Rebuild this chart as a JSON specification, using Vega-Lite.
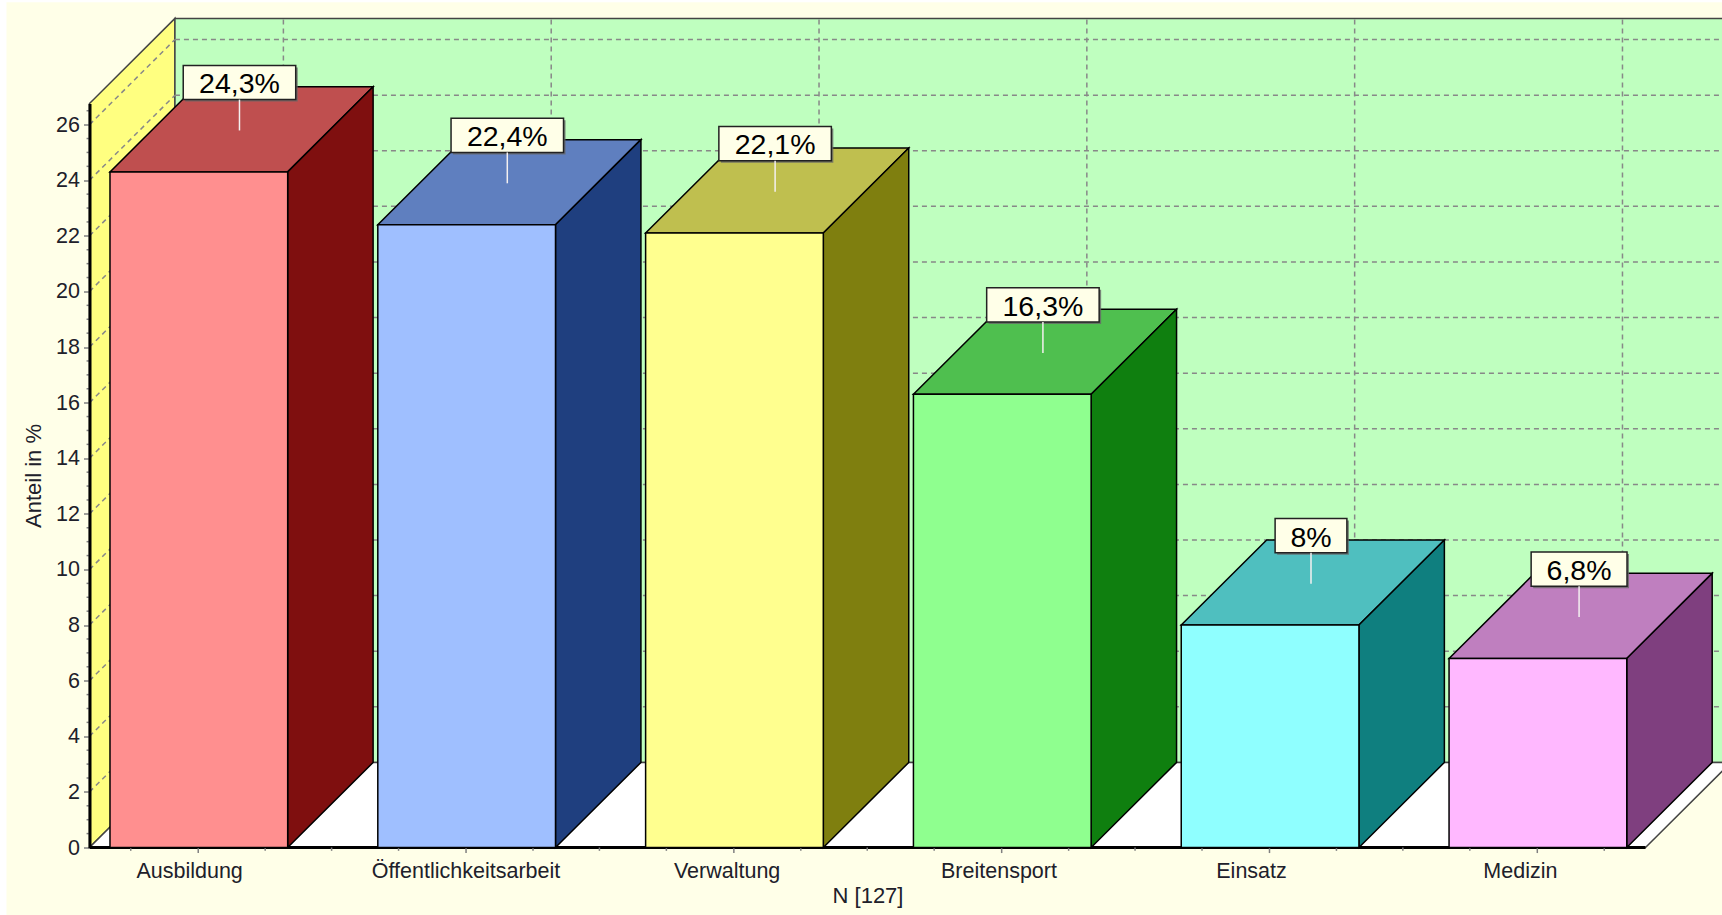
{
"$schema":"https://vega.github.io/schema/vega-lite/v6.json",
"width":1556,"height":744,
"autosize":"none",
"padding":{"left":89.5,"top":103.5,"right":76.5,"bottom":67.5},
"background":"#ffffff",
"config":{"view":{"stroke":null},"axis":{"grid":false,"labelFont":"Liberation Sans","titleFont":"Liberation Sans","labelColor":"#20202a","titleColor":"#20202a","titleFontWeight":"normal","labelFontSize":21.5,"titleFontSize":22,"labelLimit":400}},
"datasets":{
"page":[{"x":-0.31,"x2":6.2,"y":-2.5,"y2":30.4}],
"walls":[
{"face":"wall-left","x":0,"y":0,"y2":26.76},{"face":"wall-left","x":0.319,"y":3.06,"y2":29.82},
{"face":"wall-back","x":0.319,"y":3.06,"y2":29.82},{"face":"wall-back","x":6.5,"y":3.06,"y2":29.82},
{"face":"floor","x":0,"y":0,"y2":0},{"face":"floor","x":0.319,"y":0,"y2":3.06},{"face":"floor","x":5.81,"y":0,"y2":3.06},{"face":"floor","x":6.129,"y":3.06,"y2":3.06}
],
"grid":[
{"x":0,"x2":0.319,"y":2,"y2":5.06},{"x":0,"x2":0.319,"y":4,"y2":7.06},{"x":0,"x2":0.319,"y":6,"y2":9.06},{"x":0,"x2":0.319,"y":8,"y2":11.06},{"x":0,"x2":0.319,"y":10,"y2":13.06},{"x":0,"x2":0.319,"y":12,"y2":15.06},{"x":0,"x2":0.319,"y":14,"y2":17.06},{"x":0,"x2":0.319,"y":16,"y2":19.06},{"x":0,"x2":0.319,"y":18,"y2":21.06},{"x":0,"x2":0.319,"y":20,"y2":23.06},{"x":0,"x2":0.319,"y":22,"y2":25.06},{"x":0,"x2":0.319,"y":24,"y2":27.06},{"x":0,"x2":0.319,"y":26,"y2":29.06},
{"x":0.319,"x2":6.5,"y":5.06,"y2":5.06},{"x":0.319,"x2":6.5,"y":7.06,"y2":7.06},{"x":0.319,"x2":6.5,"y":9.06,"y2":9.06},{"x":0.319,"x2":6.5,"y":11.06,"y2":11.06},{"x":0.319,"x2":6.5,"y":13.06,"y2":13.06},{"x":0.319,"x2":6.5,"y":15.06,"y2":15.06},{"x":0.319,"x2":6.5,"y":17.06,"y2":17.06},{"x":0.319,"x2":6.5,"y":19.06,"y2":19.06},{"x":0.319,"x2":6.5,"y":21.06,"y2":21.06},{"x":0.319,"x2":6.5,"y":23.06,"y2":23.06},{"x":0.319,"x2":6.5,"y":25.06,"y2":25.06},{"x":0.319,"x2":6.5,"y":27.06,"y2":27.06},{"x":0.319,"x2":6.5,"y":29.06,"y2":29.06},
{"x":0.724,"x2":0.724,"y":3.06,"y2":29.82},{"x":1.724,"x2":1.724,"y":3.06,"y2":29.82},{"x":2.724,"x2":2.724,"y":3.06,"y2":29.82},{"x":3.724,"x2":3.724,"y":3.06,"y2":29.82},{"x":4.724,"x2":4.724,"y":3.06,"y2":29.82},{"x":5.724,"x2":5.724,"y":3.06,"y2":29.82}
],
"baseline":[{"x":0,"x2":5.81,"y":0,"y2":0}],
"ticks":[
{"x":-0.011,"x2":0,"y":0.5,"y2":0.5},{"x":-0.011,"x2":0,"y":1,"y2":1},{"x":-0.011,"x2":0,"y":1.5,"y2":1.5},{"x":-0.011,"x2":0,"y":2.5,"y2":2.5},{"x":-0.011,"x2":0,"y":3,"y2":3},{"x":-0.011,"x2":0,"y":3.5,"y2":3.5},{"x":-0.011,"x2":0,"y":4.5,"y2":4.5},{"x":-0.011,"x2":0,"y":5,"y2":5},{"x":-0.011,"x2":0,"y":5.5,"y2":5.5},{"x":-0.011,"x2":0,"y":6.5,"y2":6.5},{"x":-0.011,"x2":0,"y":7,"y2":7},{"x":-0.011,"x2":0,"y":7.5,"y2":7.5},{"x":-0.011,"x2":0,"y":8.5,"y2":8.5},{"x":-0.011,"x2":0,"y":9,"y2":9},{"x":-0.011,"x2":0,"y":9.5,"y2":9.5},{"x":-0.011,"x2":0,"y":10.5,"y2":10.5},{"x":-0.011,"x2":0,"y":11,"y2":11},{"x":-0.011,"x2":0,"y":11.5,"y2":11.5},{"x":-0.011,"x2":0,"y":12.5,"y2":12.5},{"x":-0.011,"x2":0,"y":13,"y2":13},{"x":-0.011,"x2":0,"y":13.5,"y2":13.5},{"x":-0.011,"x2":0,"y":14.5,"y2":14.5},{"x":-0.011,"x2":0,"y":15,"y2":15},{"x":-0.011,"x2":0,"y":15.5,"y2":15.5},{"x":-0.011,"x2":0,"y":16.5,"y2":16.5},{"x":-0.011,"x2":0,"y":17,"y2":17},{"x":-0.011,"x2":0,"y":17.5,"y2":17.5},{"x":-0.011,"x2":0,"y":18.5,"y2":18.5},{"x":-0.011,"x2":0,"y":19,"y2":19},{"x":-0.011,"x2":0,"y":19.5,"y2":19.5},{"x":-0.011,"x2":0,"y":20.5,"y2":20.5},{"x":-0.011,"x2":0,"y":21,"y2":21},{"x":-0.011,"x2":0,"y":21.5,"y2":21.5},{"x":-0.011,"x2":0,"y":22.5,"y2":22.5},{"x":-0.011,"x2":0,"y":23,"y2":23},{"x":-0.011,"x2":0,"y":23.5,"y2":23.5},{"x":-0.011,"x2":0,"y":24.5,"y2":24.5},{"x":-0.011,"x2":0,"y":25,"y2":25},{"x":-0.011,"x2":0,"y":25.5,"y2":25.5},{"x":-0.011,"x2":0,"y":26.5,"y2":26.5},
{"x":0.154,"x2":0.154,"y":0,"y2":-0.12},{"x":0.406,"x2":0.406,"y":0,"y2":-0.2},{"x":0.656,"x2":0.656,"y":0,"y2":-0.12},{"x":0.904,"x2":0.904,"y":0,"y2":-0.12},
{"x":1.154,"x2":1.154,"y":0,"y2":-0.12},{"x":1.406,"x2":1.406,"y":0,"y2":-0.2},{"x":1.656,"x2":1.656,"y":0,"y2":-0.12},{"x":1.904,"x2":1.904,"y":0,"y2":-0.12},
{"x":2.154,"x2":2.154,"y":0,"y2":-0.12},{"x":2.406,"x2":2.406,"y":0,"y2":-0.2},{"x":2.656,"x2":2.656,"y":0,"y2":-0.12},{"x":2.904,"x2":2.904,"y":0,"y2":-0.12},
{"x":3.154,"x2":3.154,"y":0,"y2":-0.12},{"x":3.406,"x2":3.406,"y":0,"y2":-0.2},{"x":3.656,"x2":3.656,"y":0,"y2":-0.12},{"x":3.904,"x2":3.904,"y":0,"y2":-0.12},
{"x":4.154,"x2":4.154,"y":0,"y2":-0.12},{"x":4.406,"x2":4.406,"y":0,"y2":-0.2},{"x":4.656,"x2":4.656,"y":0,"y2":-0.12},{"x":4.904,"x2":4.904,"y":0,"y2":-0.12},
{"x":5.154,"x2":5.154,"y":0,"y2":-0.12},{"x":5.406,"x2":5.406,"y":0,"y2":-0.2},{"x":5.656,"x2":5.656,"y":0,"y2":-0.12}
],
"faces":[
{"face":"Ausbildung-top","x":0.0765,"y":24.3,"y2":24.3},{"face":"Ausbildung-top","x":0.3955,"y":24.3,"y2":27.36},{"face":"Ausbildung-top","x":0.74,"y":24.3,"y2":27.36},{"face":"Ausbildung-top","x":1.059,"y":27.36,"y2":27.36},
{"face":"Ausbildung-side","x":0.74,"y":0,"y2":24.3},{"face":"Ausbildung-side","x":1.059,"y":3.06,"y2":27.36},
{"face":"Öffentlichkeitsarbeit-top","x":1.0765,"y":22.4,"y2":22.4},{"face":"Öffentlichkeitsarbeit-top","x":1.3955,"y":22.4,"y2":25.46},{"face":"Öffentlichkeitsarbeit-top","x":1.74,"y":22.4,"y2":25.46},{"face":"Öffentlichkeitsarbeit-top","x":2.059,"y":25.46,"y2":25.46},
{"face":"Öffentlichkeitsarbeit-side","x":1.74,"y":0,"y2":22.4},{"face":"Öffentlichkeitsarbeit-side","x":2.059,"y":3.06,"y2":25.46},
{"face":"Verwaltung-top","x":2.0765,"y":22.1,"y2":22.1},{"face":"Verwaltung-top","x":2.3955,"y":22.1,"y2":25.16},{"face":"Verwaltung-top","x":2.74,"y":22.1,"y2":25.16},{"face":"Verwaltung-top","x":3.059,"y":25.16,"y2":25.16},
{"face":"Verwaltung-side","x":2.74,"y":0,"y2":22.1},{"face":"Verwaltung-side","x":3.059,"y":3.06,"y2":25.16},
{"face":"Breitensport-top","x":3.0765,"y":16.3,"y2":16.3},{"face":"Breitensport-top","x":3.3955,"y":16.3,"y2":19.36},{"face":"Breitensport-top","x":3.74,"y":16.3,"y2":19.36},{"face":"Breitensport-top","x":4.059,"y":19.36,"y2":19.36},
{"face":"Breitensport-side","x":3.74,"y":0,"y2":16.3},{"face":"Breitensport-side","x":4.059,"y":3.06,"y2":19.36},
{"face":"Einsatz-top","x":4.0765,"y":8,"y2":8},{"face":"Einsatz-top","x":4.3955,"y":8,"y2":11.06},{"face":"Einsatz-top","x":4.74,"y":8,"y2":11.06},{"face":"Einsatz-top","x":5.059,"y":11.06,"y2":11.06},
{"face":"Einsatz-side","x":4.74,"y":0,"y2":8},{"face":"Einsatz-side","x":5.059,"y":3.06,"y2":11.06},
{"face":"Medizin-top","x":5.0765,"y":6.8,"y2":6.8},{"face":"Medizin-top","x":5.3955,"y":6.8,"y2":9.86},{"face":"Medizin-top","x":5.74,"y":6.8,"y2":9.86},{"face":"Medizin-top","x":6.059,"y":9.86,"y2":9.86},
{"face":"Medizin-side","x":5.74,"y":0,"y2":6.8},{"face":"Medizin-side","x":6.059,"y":3.06,"y2":9.86}
],
"bars":[
{"face":"Ausbildung","x":0.0765,"x2":0.74,"y":24.3,"y2":0},
{"face":"Öffentlichkeitsarbeit","x":1.0765,"x2":1.74,"y":22.4,"y2":0},
{"face":"Verwaltung","x":2.0765,"x2":2.74,"y":22.1,"y2":0},
{"face":"Breitensport","x":3.0765,"x2":3.74,"y":16.3,"y2":0},
{"face":"Einsatz","x":4.0765,"x2":4.74,"y":8,"y2":0},
{"face":"Medizin","x":5.0765,"x2":5.74,"y":6.8,"y2":0}
],
"boxes":[
{"x":0.35,"x2":0.77,"y":26.9,"y2":28.13},
{"x":1.35,"x2":1.77,"y":25,"y2":26.23},
{"x":2.35,"x2":2.77,"y":24.7,"y2":25.93},
{"x":3.35,"x2":3.77,"y":18.9,"y2":20.13},
{"x":4.427,"x2":4.695,"y":10.6,"y2":11.83},
{"x":5.383,"x2":5.741,"y":9.4,"y2":10.63}
],
"leaders":[
{"x":0.56,"y":26.9,"y2":25.79},{"x":1.56,"y":25,"y2":23.89},{"x":2.56,"y":24.7,"y2":23.59},{"x":3.56,"y":18.9,"y2":17.79},{"x":4.561,"y":10.6,"y2":9.49},{"x":5.562,"y":9.4,"y2":8.29}
],
"callouts":[
{"Anteil":"24,3%","x":0.56,"y":27.45},
{"Anteil":"22,4%","x":1.56,"y":25.55},
{"Anteil":"22,1%","x":2.56,"y":25.25},
{"Anteil":"16,3%","x":3.56,"y":19.45},
{"Anteil":"8%","x":4.561,"y":11.15},
{"Anteil":"6,8%","x":5.562,"y":9.95}
]
},
"encoding":{
"x":{"field":"x","type":"quantitative","scale":{"domain":[0,5.81],"nice":false,"zero":false},
"axis":{"title":"N [127]","values":[0.372,1.404,2.379,3.394,4.337,5.341],"labelExpr":"['Ausbildung','Öffentlichkeitsarbeit','Verwaltung','Breitensport','Einsatz','Medizin'][round(datum.index*5)]","zindex":1,"ticks":false,"domain":false,"labelPadding":12.5,"titlePadding":4,"labelOverlap":false,"labelBound":false,"labelFlush":false}},
"y":{"field":"y","type":"quantitative","scale":{"domain":[0,26.76],"nice":false,"zero":false},
"axis":{"title":"Anteil in %","values":[0,2,4,6,8,10,12,14,16,18,20,22,24,26],"zindex":1,"tickSize":6,"tickColor":"#808080","tickWidth":1.5,"domainColor":"#000000","domainWidth":3,"labelPadding":4,"labelOffset":0.5,"titlePadding":10,"labelOverlap":false,"labelBound":false,"labelFlush":false}}
},
"layer":[
{"data":{"name":"page"},"mark":{"type":"rect","fill":"#ffffe8"},"encoding":{"x2":{"field":"x2"},"y2":{"field":"y2"}}},
{"data":{"name":"walls"},"mark":{"type":"area","stroke":"#444444","strokeWidth":1.5,"fillOpacity":1},
 "encoding":{"y2":{"field":"y2"},"detail":{"field":"face"},"color":{"field":"face","type":"nominal","legend":null,"scale":{"domain":["wall-left","wall-back","floor"],"range":["#ffff80","#bfffbf","#ffffff"]}}}},
{"data":{"name":"grid"},"mark":{"type":"rule","stroke":"#888888","strokeWidth":1.5,"strokeDash":[5,4]},"encoding":{"x2":{"field":"x2"},"y2":{"field":"y2"}}},
{"data":{"name":"baseline"},"mark":{"type":"rule","stroke":"#000000","strokeWidth":3},"encoding":{"x2":{"field":"x2"}}},
{"data":{"name":"ticks"},"mark":{"type":"rule","stroke":"#808080","strokeWidth":1.5},"encoding":{"x2":{"field":"x2"},"y2":{"field":"y2"}}},
{"data":{"name":"faces"},"mark":{"type":"area","stroke":"#000000","strokeWidth":1.5,"fillOpacity":1},
 "encoding":{"y2":{"field":"y2"},"detail":{"field":"face"},"fill":{"field":"face","type":"nominal","legend":null,"scale":{"domain":["Ausbildung","Ausbildung-top","Ausbildung-side","Öffentlichkeitsarbeit","Öffentlichkeitsarbeit-top","Öffentlichkeitsarbeit-side","Verwaltung","Verwaltung-top","Verwaltung-side","Breitensport","Breitensport-top","Breitensport-side","Einsatz","Einsatz-top","Einsatz-side","Medizin","Medizin-top","Medizin-side"],"range":["#ff8f8f","#bf4f4f","#7f0f0f","#9fbfff","#5f7fbf","#1f3f7f","#ffff8f","#bfbf4f","#7f7f0f","#8fff8f","#4fbf4f","#0f7f0f","#8fffff","#4fbfbf","#0f7f7f","#ffb8ff","#bf7fbf","#7f3f7f"]}}}},
{"data":{"name":"bars"},"mark":{"type":"rect","stroke":"#000000","strokeWidth":1.5},
 "encoding":{"x2":{"field":"x2"},"y2":{"field":"y2"},"fill":{"field":"face","type":"nominal","legend":null,"scale":{"domain":["Ausbildung","Ausbildung-top","Ausbildung-side","Öffentlichkeitsarbeit","Öffentlichkeitsarbeit-top","Öffentlichkeitsarbeit-side","Verwaltung","Verwaltung-top","Verwaltung-side","Breitensport","Breitensport-top","Breitensport-side","Einsatz","Einsatz-top","Einsatz-side","Medizin","Medizin-top","Medizin-side"],"range":["#ff8f8f","#bf4f4f","#7f0f0f","#9fbfff","#5f7fbf","#1f3f7f","#ffff8f","#bfbf4f","#7f7f0f","#8fff8f","#4fbf4f","#0f7f0f","#8fffff","#4fbfbf","#0f7f7f","#ffb8ff","#bf7fbf","#7f3f7f"]}}}},
{"data":{"name":"boxes"},"mark":{"type":"rect","fill":"#666666","fillOpacity":0.8,"xOffset":2,"x2Offset":2,"yOffset":2,"y2Offset":2},"encoding":{"x2":{"field":"x2"},"y2":{"field":"y2"}}},
{"data":{"name":"boxes"},"mark":{"type":"rect","fill":"#ffffe8","stroke":"#222222","strokeWidth":1.5},"encoding":{"x2":{"field":"x2"},"y2":{"field":"y2"}}},
{"data":{"name":"leaders"},"mark":{"type":"rule","stroke":"#f4f0f0","strokeWidth":1.5},"encoding":{"y2":{"field":"y2"}}},
{"data":{"name":"callouts"},"mark":{"type":"text","font":"Liberation Sans","fontSize":28.5,"color":"#000000","baseline":"middle","align":"center"},"encoding":{"text":{"field":"Anteil"}}}
]
}
